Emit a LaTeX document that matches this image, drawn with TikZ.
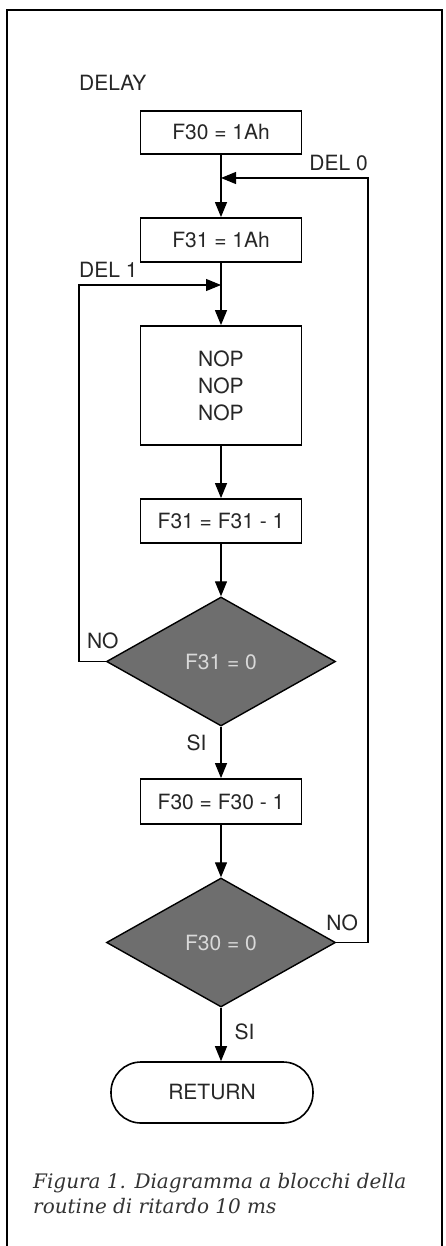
\documentclass[tikz,border=0pt]{standalone}
\usepackage{fontspec}
\setmainfont{TeX Gyre Heros}
\newfontfamily\capfont{DejaVu Serif}
\usetikzlibrary{positioning, shapes.geometric, arrows.meta, calc}

\begin{document}
\begin{tikzpicture}[
    x=1pt, y=-1pt, % one unit per pixel, y downwards
    >={Triangle[length=15pt, width=12pt]}, % Filled flowchart tips
    % Styles
    every node/.style={
        font=\fontsize{21}{27}\selectfont,
        text=black!85
    },
    block/.style={ % Process block
        rectangle,
        draw,
        line width=1.8pt,
        minimum width=161pt,
        inner sep=0pt,
        align=center
    },
    decision/.style={ % Test on a register
        diamond,
        draw,
        line width=1.4pt,
        fill=black!57,
        text=black!15,
        minimum width=229pt,
        minimum height=129pt,
        inner sep=0pt
    },
    terminal/.style={ % End of the routine
        rectangle,
        rounded corners=30pt,
        draw,
        line width=1.6pt,
        minimum width=202pt,
        minimum height=61pt
    },
    tag/.style={ % Labels on the flow
        inner sep=0pt
    },
    arrow/.style={
        ->,
        line width=1.2pt
    },
    loopback/.style={ % Arrows going back up
        arrow,
        line width=1.1pt
    }
]
    \useasboundingbox (0,0) rectangle (445,1246);

    % Frame of the figure
    \draw [line width=1.8pt] (7,1246) -- (7,10) -- (442,10) -- (442,1246);

    % Blocks
    \node [tag, anchor=west] (title) at (79,83) {DELAY};
    \node [block, minimum height=43pt] (set30) at (221,132.5) {F30 = 1Ah};
    \node [block, minimum height=44pt] (set31) at (221,240) {F31 = 1Ah};
    \node [block, minimum height=119pt] (nops) at (221,385.5) {NOP\\NOP\\NOP};
    \node [block, minimum height=44pt] (dec31) at (221,521) {F31 = F31 - 1};
    \node [decision] (test31) at (221,661.5) {F31 = 0};
    \node [block, minimum height=45pt] (dec30) at (221,801.5) {F30 = F30 - 1};
    \node [decision] (test30) at (221,942.5) {F30 = 0};
    \node [terminal] (ret) at (212,1092.5) {RETURN};

    % Corners of the two loops
    \coordinate (del0) at (368,178);
    \coordinate (del1) at (79,285);

    % Main flow
    \draw [arrow] (set30) -- (set31);
    \draw [arrow] (set31) -- (nops);
    \draw [arrow] (nops) -- (dec31);
    \draw [arrow] (dec31) -- (test31);
    \draw [arrow] (test31) -- node[tag, pos=0.32, left=14pt] (si31) {SI} (dec30);
    \draw [arrow] (dec30) -- (test30);
    \draw [arrow] (test30.south) -- node[tag, pos=0.45, right=13pt] (si30) {SI} (test30.south |- ret.north);

    % Loops
    \draw [loopback] (test31.west) -| (del1) -- (del1 -| set31);
    \draw [loopback] (test30.east) -| (del0) -- (del0 -| set30);
    \node [tag, anchor=south west] (lbl1) at ($(del1)+(0,-7)$) {DEL 1};
    \node [tag, anchor=south east] (lbl0) at ($(del0)+(0,-7)$) {DEL 0};
    \node [tag] (no31) at ($(test31.west)+(-3,-21)$) {NO};
    \node [tag] (no30) at ($(test30.east)+(6,-20)$) {NO};

    % Caption
    \node [tag, anchor=north west, align=left, text=black!80,
        font=\capfont\itshape\fontsize{20}{25}\selectfont] (caption) at (33,1173)
        {Figura 1. Diagramma a blocchi della\\routine di ritardo 10 ms};
\end{tikzpicture}
\end{document}
